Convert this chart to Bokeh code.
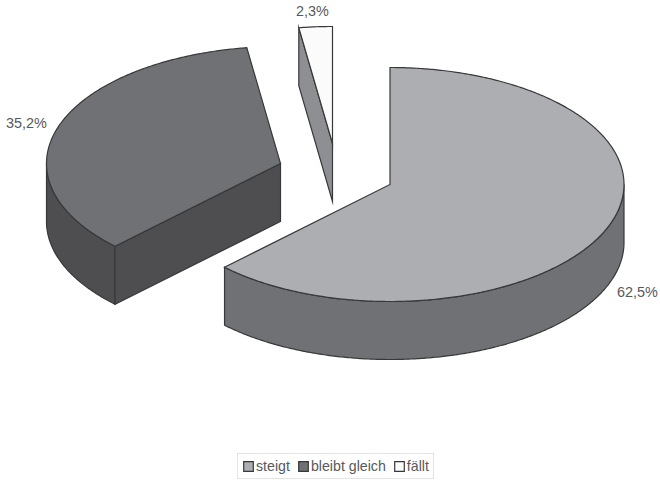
import numpy as np
from bokeh.core.properties import value
from bokeh.embed import file_html
from bokeh.models import Legend, LegendItem, Range1d
from bokeh.plotting import figure
from bokeh.resources import INLINE

# Shares of the three answers
categories = ["steigt", "bleibt gleich", "fällt"]
shares = [62.5, 35.2, 2.3]

# Oblique projection of the disc, in screen pixels
RX, RY, DEPTH = 234, 117, 58
apexes = [(389.5, 184), (280, 163), (332, 143)]
top_colors = ["#adaeb2", "#707175", "#fbfbfb"]
side_colors = ["#707175", "#4e4e50", "#8e8f92"]
EDGE = "#38383a"
TEXT = "#58595b"
FONT = value("Liberation Sans")

label_anchors = [(637, 291), (26, 122), (312, 10)]


def rim(apex, start, stop):
    """Points on the ellipse, angles clockwise from twelve o'clock."""
    a = np.radians(np.linspace(start, stop, max(int(abs(stop - start)) * 2, 2)))
    return apex[0] + RX * np.sin(a), apex[1] - RY * np.cos(a)


def extrude(xs, ys):
    """Vertical wall hanging below a top-face edge."""
    return list(xs) + list(xs[::-1]), list(ys) + list((ys + DEPTH)[::-1])


p = figure(width=660, height=480, output_backend="svg", toolbar_location=None,
           x_range=Range1d(0, 660), y_range=Range1d(480, 0),
           x_axis_type=None, y_axis_type=None, min_border=0,
           background_fill_color="white", border_fill_color="white",
           outline_line_color=None)
p.xgrid.visible = False
p.ygrid.visible = False

edges = np.cumsum([0] + shares) * 3.6
spans = list(zip(edges[:-1], edges[1:]))
style = dict(line_color=EDGE, line_width=1.2, line_join="miter")

swatches = {}
# Paint back to front: left slice, narrow slice, large slice
for i in (1, 2, 0):
    start, stop = spans[i]
    apex = apexes[i]

    # outer rim, only the part that faces the viewer (90..270 degrees)
    lo, hi = max(start, 90), min(stop, 270)
    if lo < hi:
        xs, ys = extrude(*rim(apex, lo, hi))
        p.patch(xs, ys, fill_color=side_colors[i], **style)

    # cut face of the slice that turns towards the viewer
    if i in (1, 2):
        ex, ey = rim(apex, start, start)
        xs, ys = extrude(np.array([apex[0], ex[0]]), np.array([apex[1], ey[0]]))
        p.patch(xs, ys, fill_color=side_colors[i], **style)

    # top face
    rx, ry = rim(apex, start, stop)
    swatches[i] = p.patch([apex[0]] + list(rx), [apex[1]] + list(ry),
                          fill_color=top_colors[i], **style)

# Percentage labels with a decimal comma
for share, (lx, ly) in zip(shares, label_anchors):
    p.text([lx], [ly], text=[f"{share:.1f}%".replace(".", ",")],
           text_font=FONT, text_font_size="14.4px", text_color=TEXT,
           text_align="center", text_baseline="middle")

legend = Legend(
    items=[LegendItem(label=c, renderers=[swatches[i]]) for i, c in enumerate(categories)],
    orientation="horizontal", location=(237, 1), margin=0, padding=4, spacing=7,
    glyph_width=12, glyph_height=12, label_standoff=2, label_height=12,
    label_text_font="Liberation Sans", label_text_font_size="14.2px",
    label_text_color=TEXT, border_line_color="#c8c8c8", border_line_width=1,
    background_fill_color="white", background_fill_alpha=1,
)
p.add_layout(legend, "center")

open("out.html", "w").write(file_html(p, INLINE))
